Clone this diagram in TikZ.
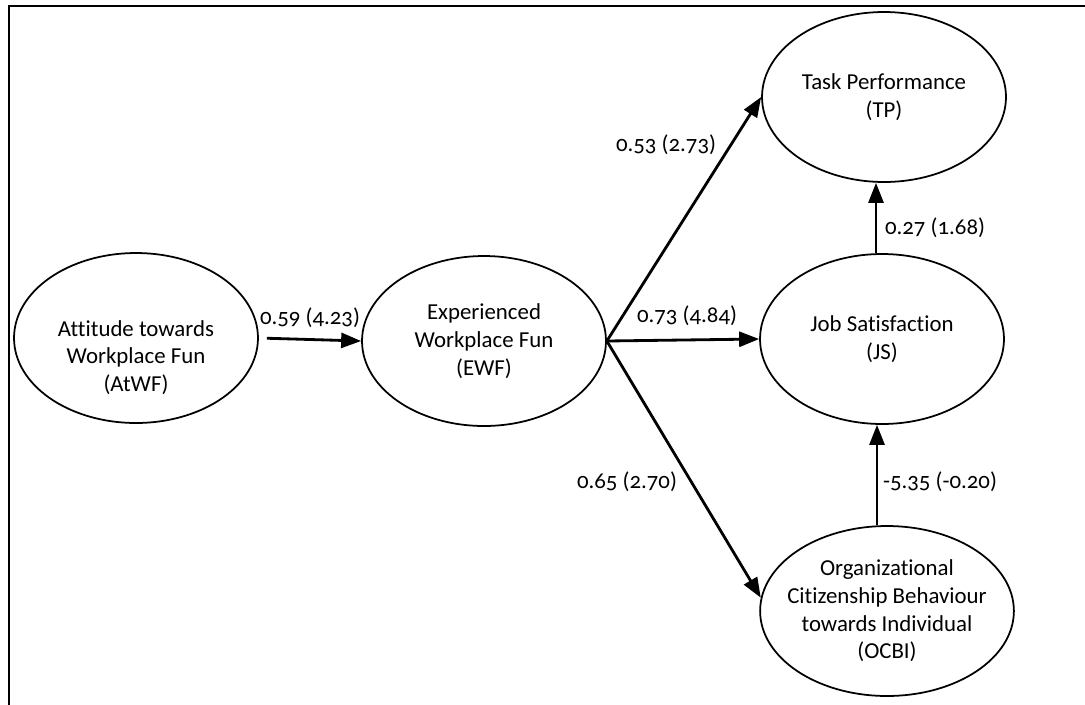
\documentclass[tikz,border=0pt]{standalone}
\usepackage{fontspec}
\setmainfont[Numbers=OldStyle,Ligatures=NoCommon]{Carlito}
\usetikzlibrary{arrows.meta,shapes.geometric}
\tikzset{
  latent/.style={draw,ellipse,line width=1pt,minimum width=4.88cm,minimum height=3.4cm,align=center,inner sep=0pt},
  path/.style={line width=1.6pt,-{Triangle[length=0.4cm,width=0.3cm]}},
  coef/.style={inner sep=0pt}
}
\begin{document}
\begin{tikzpicture}[x=0.02cm,y=-0.02cm,font=\fontsize{13}{15.8}\selectfont]
\useasboundingbox (0,0) rectangle (1085,704);
\draw[line width=1.5pt] (1100,6) -- (9,6) -- (9,720);

\node[latent] (atwf) at (136,338) {\rule{0pt}{1.1cm}Attitude towards\\Workplace Fun\\(AtWF)};
\node[latent] (ewf) at (484,341) {Experienced\\Workplace Fun\\(EWF)};
\node[latent] (tp) at (884,97) {Task Performance\\(TP)};
\node[latent] (js) at (882,339) {Job Satisfaction\\(JS)};
\node[latent,inner sep=-0.2cm] (ocbi) at (887,611) {Organizational\\Citizenship Behaviour\\towards Individual\\(OCBI)};

\draw[path,shorten <=0.16cm] (atwf.east) -- (ewf.west);
\draw[path] (ewf.east) -- (tp.west);
\draw[path] (ewf.east) -- (js.west);
\draw[path] (ewf.east) -- (ocbi.174);
\draw[path] (js.north -| 876,0) -- (tp.south -| 876,0);
\draw[path] (ocbi.north -| 877,0) -- (js.south -| 877,0);

	\foreach \x/\y/\t/\n in {310/318/0.59 (4.23)/l1, 666/145/0.53 (2.73)/l2, 687/316/0.73 (4.84)/l3, 627/482/0.65 (2.70)/l4, 935/228/0.27 (1.68)/l5, 940/482/-5.35 (-0.20)/l6}
{
	\node[coef] (\n) at (\x,\y) {\t};
}
\end{tikzpicture}
\end{document}
